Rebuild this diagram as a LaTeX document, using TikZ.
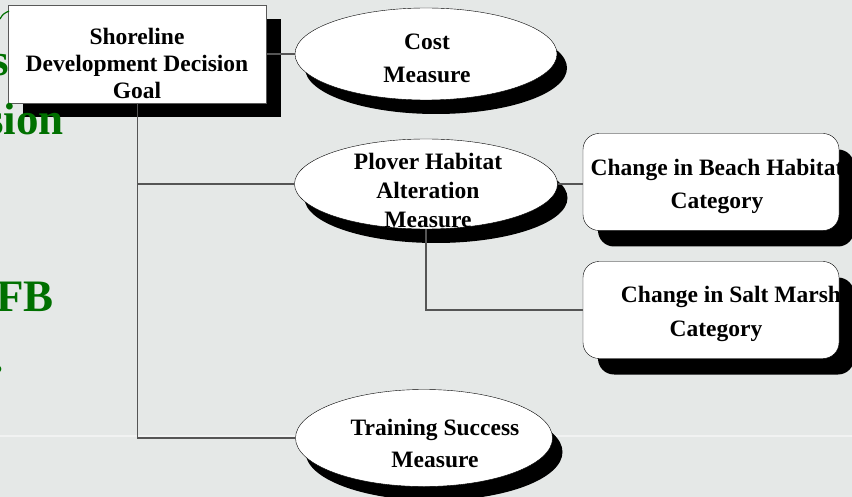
\documentclass[tikz,border=0pt]{standalone}
\usepackage{fontspec}
\setmainfont{Liberation Serif}
\usetikzlibrary{shapes.geometric,shadows}
\definecolor{slidebg}{RGB}{229,232,231}
\definecolor{titlegreen}{RGB}{0,112,0}
\definecolor{linkgray}{RGB}{85,85,85}

\begin{document}
\begin{tikzpicture}[x=1pt, y=-1pt,
  goalbox/.style={draw=gray!70!black, fill=white, minimum width=258pt, minimum height=98pt, inner sep=0pt,
    drop shadow={shadow xshift=14pt, shadow yshift=-14pt, fill=black, opacity=1}},
  oval/.style={ellipse, draw=black, fill=white, inner sep=0pt,
    drop shadow={shadow xshift=10pt, shadow yshift=-14pt, fill=black, opacity=1}},
  catbox/.style={draw=black, fill=white, rounded corners=16pt, minimum width=256pt, minimum height=97pt, inner sep=0pt,
    drop shadow={shadow xshift=15pt, shadow yshift=-16pt, fill=black, opacity=1}},
  lbl/.style={align=center, inner sep=0pt, font=\fontsize{23.5}{#1}\selectfont\bfseries},
  lbl/.default=32,
  ghost/.style={text=titlegreen, inner sep=0pt, font=\fontsize{45}{50}\selectfont\bfseries},
  link/.style={draw=linkgray, line width=1.2pt}]
% Slide background
\useasboundingbox (0,0) rectangle (852,497);
\fill [slidebg] (0,0) rectangle (852,497);
\clip (0,0) rectangle (852,497);
\draw [white!45!slidebg, line width=1.5pt] (0,436) -- (852,436);

% Goal and measures
\node [goalbox] (goal) at (137.5,54) {};
\node [oval, minimum width=262pt, minimum height=92pt] (cost) at (426,54) {};
\node [oval, minimum width=263pt, minimum height=90pt] (plover) at (426,184) {};
\node [oval, minimum width=257pt, minimum height=97pt] (training) at (424,438) {};

% Categories
\node [catbox] (beach) at (711,182) {};
\node [catbox] (salt) at (711,310) {};

% Title text showing through at the left
\node [ghost, anchor=base east] (title1) at (9,76) {s};
\node [ghost, anchor=base east] (title2) at (64,135) {sion};
\node [ghost, anchor=base east] (title3) at (54,312) {FB};
\node [ghost, anchor=base east] (title4) at (4,372) {.};
\draw [titlegreen, line width=1.2pt] (0,19) .. controls (3,14) .. (9,11);

% Texts
\node [lbl=27] (goal-t) at (137,63) {Shoreline\\Development Decision\\Goal};
\node [lbl=33] (cost-t) at (427,58) {Cost\\Measure};
\node [lbl=29] (plover-t) at (428,190) {Plover Habitat\\Alteration\\Measure};
\node [lbl] (training-t) at (435,443) {Training Success\\Measure};
\node [lbl=33] (beach-t) at (717,186) {Change in Beach Habitat\\Category};
\node [lbl=34] (salt-t) at (716,314) {\hspace*{30pt}Change in Salt Marsh\\Category};

% Connectors
\draw [link] (goal) -- (cost);
\draw [link] (goal.south) |- (plover.west);
\draw [link] (goal.south) |- (training.west);
\draw [link] (plover.east) -- (plover.east -| beach.west);
\draw [link] (plover.south) |- (salt.west);
\end{tikzpicture}
\end{document}
